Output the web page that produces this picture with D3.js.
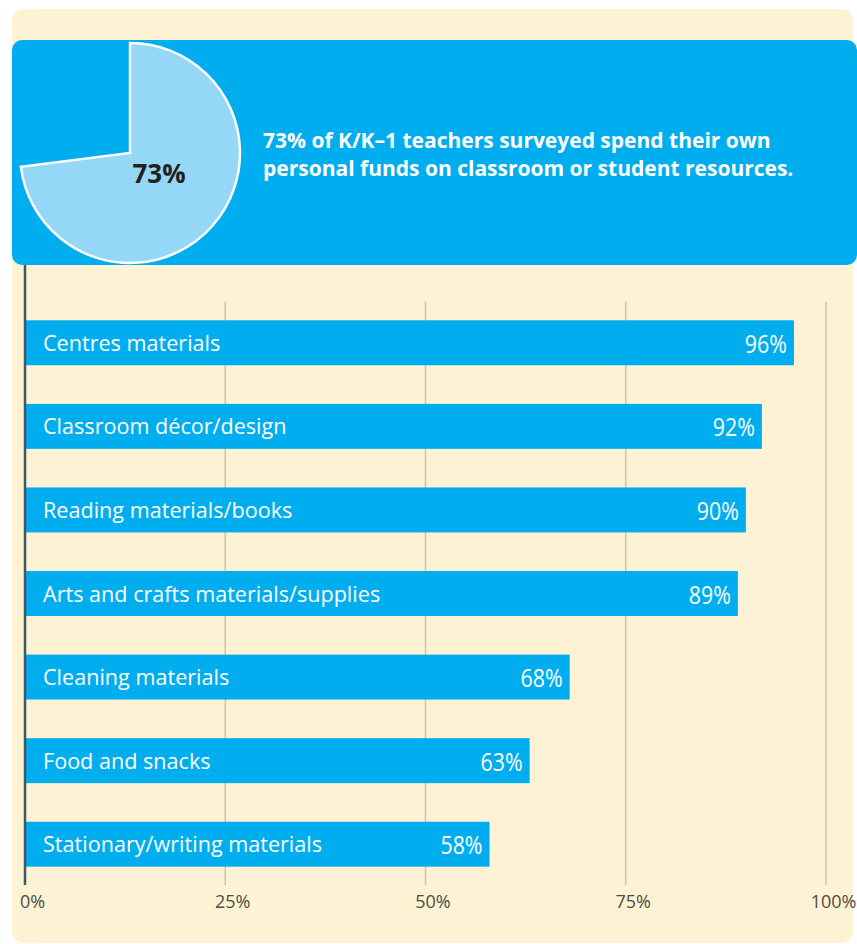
<!DOCTYPE html>
<html>
<head>
<meta charset="utf-8">
<script src="https://cdn.jsdelivr.net/npm/d3@7"></script>
<style>
  body { margin: 0; background: #ffffff; }
</style>
</head>
<body>
<div id="chart"></div>
<script>
// data
var categories = ["Centres materials", "Classroom décor/design", "Reading materials/books",
  "Arts and crafts materials/supplies", "Cleaning materials", "Food and snacks",
  "Stationary/writing materials"];
var values = [96, 92, 90, 89, 68, 63, 58];
var tickValues = [0, 25, 50, 75, 100];
var pieShare = [73, 27];
var headline = ["73% of K/K\u20131 teachers surveyed spend their own",
  "personal funds on classroom or student resources."];

var W = 857, H = 944;
var blue = "#00aeef", cream = "#fdf2d4";

var svg = d3.select("#chart").append("svg")
  .attr("width", W)
  .attr("height", H);

// cream panel
svg.append("rect")
  .attr("x", 12).attr("y", 9)
  .attr("width", 841).attr("height", 934)
  .attr("rx", 12)
  .attr("fill", cream);

// blue banner
svg.append("rect")
  .attr("x", 12).attr("y", 40)
  .attr("width", 845).attr("height", 225)
  .attr("rx", 10)
  .attr("fill", blue);

// pie
var pie = d3.pie().sort(null).value(function(d) { return d; });
var arc = d3.arc().innerRadius(0).outerRadius(110);
var pieG = svg.append("g").attr("transform", "translate(130,153)");
pieG.selectAll("path")
  .data(pie(pieShare).slice(0, 1))
  .enter().append("path")
    .attr("d", arc)
    .attr("fill", "#95d7f6")
    .attr("stroke", "#ffffff")
    .attr("stroke-width", 2.5)
    .attr("stroke-linejoin", "miter");

pieG.append("text")
  .attr("x", 29).attr("y", 30)
  .attr("text-anchor", "middle")
  .style("font-family", "'Open Sans', sans-serif")
  .style("font-weight", 700)
  .style("font-size", "26px")
  .style("fill", "#231f20")
  .text(pieShare[0] + "%");

// headline
svg.append("g").selectAll("text")
  .data(headline)
  .enter().append("text")
    .attr("x", 263)
    .attr("y", function(d, i) { return 148 + i * 28; })
    .style("font-family", "'Open Sans', sans-serif")
    .style("font-weight", 700)
    .style("font-size", "21px")
    .style("fill", "#ffffff")
    .text(function(d) { return d; });

// scales
var x = d3.scaleLinear().domain([0, 100]).range([25, 826]);
var y = d3.scaleBand().domain(categories).range([301, 886]).paddingInner(0.462).paddingOuter(0.231);

// gridlines
svg.append("g").selectAll("line")
  .data(tickValues.slice(1))
  .enter().append("line")
    .attr("x1", function(d) { return x(d); })
    .attr("x2", function(d) { return x(d); })
    .attr("y1", 302).attr("y2", 885)
    .attr("stroke", "#c9c6c0")
    .attr("stroke-width", 1.6);

// bars
var bars = svg.append("g").selectAll("g")
  .data(categories)
  .enter().append("g");

bars.append("rect")
  .attr("x", x(0))
  .attr("y", function(d) { return y(d); })
  .attr("width", function(d, i) { return x(values[i]) - x(0); })
  .attr("height", y.bandwidth())
  .attr("fill", blue);

bars.append("text")
  .attr("x", 43)
  .attr("y", function(d) { return y(d) + y.bandwidth() / 2 + 8; })
  .style("font-family", "'Open Sans', sans-serif")
  .style("font-size", "21.6px")
  .style("fill", "#ffffff")
  .text(function(d) { return d; });

// value labels, squeezed to look condensed
bars.append("text")
  .attr("transform", function(d, i) {
    return "translate(" + (x(values[i]) - 7) + "," + (y(d) + y.bandwidth() / 2 + 10) + ") scale(0.84,1)";
  })
  .attr("text-anchor", "end")
  .style("font-family", "'Open Sans', sans-serif")
  .style("font-size", "25.5px")
  .style("fill", "#ffffff")
  .text(function(d, i) { return values[i] + "%"; });

// axis line
svg.append("line")
  .attr("x1", x(0)).attr("x2", x(0))
  .attr("y1", 265).attr("y2", 885)
  .attr("stroke", "#3e5a6a")
  .attr("stroke-width", 2.5);

// tick labels
var xAxis = d3.axisBottom(x)
  .tickValues(tickValues)
  .tickSize(0)
  .tickFormat(function(d) { return d + "%"; });

var axisG = svg.append("g")
  .attr("transform", "translate(0,888)")
  .call(xAxis);
axisG.select(".domain").remove();
axisG.selectAll("text")
  .attr("dx", 7)
  .attr("dy", 0)
  .attr("y", 20)
  .style("font-family", "'Open Sans', sans-serif")
  .style("font-size", "18px")
  .style("fill", "#4f4c48");
</script>
</body>
</html>
